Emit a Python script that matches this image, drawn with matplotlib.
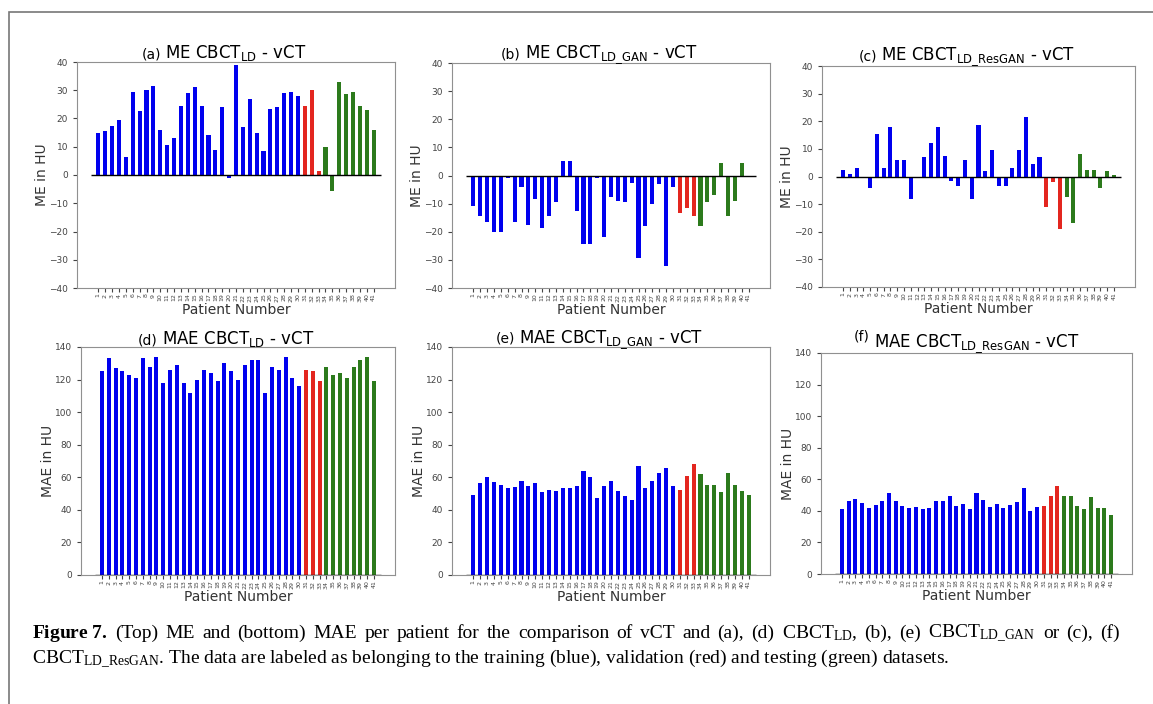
import numpy as np
import matplotlib
matplotlib.use('Agg')
import matplotlib.pyplot as plt
from matplotlib.patches import Rectangle

plt.rcParams['mathtext.rm'] = 'Liberation Serif'
plt.rcParams['mathtext.it'] = 'Liberation Serif:italic'
plt.rcParams['mathtext.bf'] = 'Liberation Serif:bold'

# patients 1..41: 30 training, 3 validation, 8 testing
patients = np.arange(1, 42)
n_train, n_val, n_test = 30, 3, 8

me_ld = [15, 15.5, 17.5, 19.5, 6.5, 29.5, 22.5, 30, 31.5, 16,
         10.5, 13, 24.5, 29, 31, 24.5, 14, 9, 24, -1,
         39, 17, 27, 15, 8.5, 23.5, 24, 29, 29.5, 28,
         24.5, 30, 1.5,
         10, -5.5, 33, 28.5, 29.5, 24.5, 23, 16]
me_gan = [-11, -14.5, -16.5, -20, -20, -1, -16.5, -4, -17.5, -8.5,
          -18.5, -14.5, -9.5, 5, 5, -12.5, -24.5, -24.5, -1, -22,
          -7.5, -9, -9.5, -2.5, -29.5, -18, -10, -3, -32, -4,
          -13.5, -11.5, -14.5,
          -18, -9.5, -7, 4.5, -14.5, -9, 4.5, -0.3]
me_resgan = [2.5, 1, 3, 0, -4, 15.5, 3, 18, 6, 6,
             -8, 0, 7, 12, 18, 7.5, -1.5, -3.5, 6, -8,
             18.5, 2, 9.5, -3.5, -3.5, 3, 9.5, 21.5, 4.5, 7,
             -11, -2, -19,
             -7.5, -17, 8, 2.5, 2.5, -4, 2, 0.5]
mae_ld = [125, 133, 127, 125, 123, 121, 133, 128, 134, 118,
          126, 129, 118, 112, 120, 126, 124, 119, 130, 125,
          120, 129, 132, 132, 112, 128, 126, 134, 121, 116,
          126, 125, 119,
          128, 123, 124, 121, 128, 132, 134, 119]
mae_gan = [49, 56.5, 60, 57, 55, 53.5, 54, 57.5, 54.5, 56.5,
           51, 52.5, 51.5, 53.5, 53.5, 54.5, 64, 60, 47, 54.5,
           57.5, 51.5, 48.5, 46, 67, 53.5, 58, 62.5, 65.5, 54.5,
           52.5, 60.5, 68,
           62, 55.5, 55, 51, 62.5, 55.5, 51.5, 49]
mae_resgan = [41, 46, 47.5, 45, 42, 44, 46, 51.5, 46, 43,
              41.5, 42.5, 41, 41.5, 46.5, 46.5, 49.5, 43, 44.5, 41,
              51.5, 47, 42.5, 44.5, 41.5, 44, 45.5, 54.5, 40, 42.5,
              43, 49.5, 56,
              49.5, 49.5, 43, 41, 48.5, 41.5, 42, 37.5]

letters = ['(a)', '(b)', '(c)', '(d)', '(e)', '(f)']
titles = [r'ME CBCT$_{\mathrm{LD}}$ - vCT',
          r'ME CBCT$_{\mathrm{LD\_GAN}}$ - vCT',
          r'ME CBCT$_{\mathrm{LD\_ResGAN}}$ - vCT',
          r'MAE CBCT$_{\mathrm{LD}}$ - vCT',
          r'MAE CBCT$_{\mathrm{LD\_GAN}}$ - vCT',
          r'MAE CBCT$_{\mathrm{LD\_ResGAN}}$ - vCT']
panels = [me_ld, me_gan, me_resgan, mae_ld, mae_gan, mae_resgan]

# axes boxes in pixels (left, top, right, bottom)
boxes = [(77, 62, 395, 288), (452, 63, 770, 288), (822, 66, 1135, 287),
         (81, 347, 395, 575), (452, 347, 770, 575), (821, 353, 1132, 574)]
title_dy = [4, 5, 6, 3, 4, 6]
letter_dy = [0, 0, 0, 0, 0, 6]

W, H = 1153, 704
fig = plt.figure(figsize=(W / 100, H / 100), dpi=100)

groups = [(0, n_train, '#0000ee'),
          (n_train, n_train + n_val, '#e3261f'),
          (n_train + n_val, n_train + n_val + n_test, '#2c7a1c')]

for i in range(6):
    l, t, r, b = boxes[i]
    ax = fig.add_axes([l / W, 1 - b / H, (r - l) / W, (b - t) / H])
    vals = np.array(panels[i])
    for s, e, c in groups:
        ax.bar(patients[s:e], vals[s:e], width=0.6, color=c)
    ax.hlines(0, 0, 42, color='black', lw=1)
    if i < 3:
        ax.set_ylim(-40, 40)
        ax.set_yticks(np.arange(-40, 41, 10))
        ax.set_ylabel('ME in HU', fontsize=10, color='#333333', labelpad=0)
    else:
        ax.set_ylim(0, 140)
        ax.set_yticks(np.arange(0, 141, 20))
        ax.set_ylabel('MAE in HU', fontsize=10, color='#333333', labelpad=0)
    ax.set_xticks(patients)
    ax.set_xticklabels([str(p) for p in patients], rotation=90, fontsize=4.5)
    ax.tick_params(axis='y', labelsize=6.5, length=3, colors='#444444')
    ax.tick_params(axis='x', length=3, colors='#444444', pad=1)
    ax.set_xlabel('Patient Number', fontsize=10, color='#333333', labelpad=1)
    for sp in ax.spines.values():
        sp.set_color('#909090')

    main = ax.annotate(titles[i], xy=(0.5, 1), xycoords='axes fraction',
                       xytext=(0, title_dy[i]), textcoords='offset pixels',
                       ha='center', va='baseline', fontsize=12)
    ax.annotate(letters[i], xy=(0, 1), xycoords=(main, 'axes fraction'),
                xytext=(-4, title_dy[i] + letter_dy[i]), textcoords='offset pixels',
                ha='right', va='baseline', fontsize=10)

fig.add_artist(Rectangle((9 / W, -0.01), 1.1, 1 - 12 / H + 0.01,
                         transform=fig.transFigure, fill=False,
                         edgecolor='#777777', lw=1.2))

# caption: first line justified, second line natural spacing
cap_size = 14
line1 = [r'$\mathbf{Figure\ 7.}$', '(Top)', 'ME', 'and', '(bottom)', 'MAE', 'per',
         'patient', 'for', 'the', 'comparison', 'of', 'vCT', 'and', '(a),', '(d)',
         r'CBCT$_{\mathrm{LD}}$,', '(b),', '(e)', r'CBCT$_{\mathrm{LD\_GAN}}$',
         'or', '(c),', '(f)']
line2 = (r'CBCT$_{\mathrm{LD\_ResGAN}}$. The data are labeled as belonging to the training (blue), '
         r'validation (red) and testing (green) datasets.')
x_left, x_right = 32, 1120
renderer = fig.canvas.get_renderer()
words = []
for w in line1:
    tx = fig.text(0, 1 - 638 / H, w, fontsize=cap_size, family='Liberation Serif',
                  math_fontfamily='custom', va='baseline')
    words.append((tx, tx.get_window_extent(renderer).width))
gap = (x_right - x_left - sum(wd for _, wd in words)) / (len(words) - 1)
x = x_left
for tx, wd in words:
    tx.set_x(x / W)
    x += wd + gap
fig.text(x_left / W, 1 - 663 / H, line2, fontsize=cap_size, family='Liberation Serif',
         math_fontfamily='custom', va='baseline')

fig.savefig('out.png', dpi=100)
